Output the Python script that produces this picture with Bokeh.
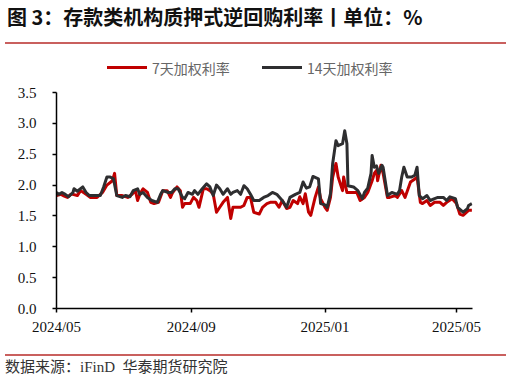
import pandas as pd
from bokeh.plotting import figure
from bokeh.layouts import column
from bokeh.models import (Range1d, FixedTicker, DatetimeTickFormatter, PrintfTickFormatter, Div)
from bokeh.embed import file_html
from bokeh.resources import INLINE

# ---- data ----
d7_dates = ["2024-05-01","2024-05-05","2024-05-07","2024-05-11","2024-05-14","2024-05-16","2024-05-20","2024-05-23",
            "2024-05-28","2024-06-01","2024-06-07","2024-06-12","2024-06-16","2024-06-21","2024-06-23","2024-06-25",
            "2024-06-30","2024-07-05","2024-07-09","2024-07-12","2024-07-14","2024-07-16","2024-07-19","2024-07-23",
            "2024-07-26","2024-07-29","2024-08-02","2024-08-06","2024-08-10","2024-08-13","2024-08-15","2024-08-19",
            "2024-08-22","2024-08-24","2024-08-26","2024-08-31","2024-09-03","2024-09-06","2024-09-08","2024-09-12",
            "2024-09-15","2024-09-18","2024-09-21","2024-09-24","2024-09-27","2024-09-30","2024-10-04","2024-10-07",
            "2024-10-09","2024-10-13","2024-10-16","2024-10-19","2024-10-22","2024-10-25","2024-10-28","2024-11-02",
            "2024-11-05","2024-11-09","2024-11-12","2024-11-17","2024-11-20","2024-11-23","2024-11-27","2024-11-30",
            "2024-12-03","2024-12-07","2024-12-09","2024-12-12","2024-12-14","2024-12-17","2024-12-19","2024-12-23",
            "2024-12-26","2024-12-28","2025-01-01","2025-01-03","2025-01-06","2025-01-08","2025-01-11","2025-01-13",
            "2025-01-17","2025-01-18","2025-01-21","2025-01-24","2025-01-30","2025-02-02","2025-02-06","2025-02-09",
            "2025-02-13","2025-02-15","2025-02-17","2025-02-18","2025-02-21","2025-02-23","2025-02-27","2025-03-01",
            "2025-03-06","2025-03-08","2025-03-12","2025-03-15","2025-03-20","2025-03-24","2025-03-26","2025-03-29",
            "2025-03-31","2025-04-04","2025-04-07","2025-04-11","2025-04-16","2025-04-19","2025-04-22","2025-04-27",
            "2025-05-01","2025-05-04","2025-05-07","2025-05-12","2025-05-15"]
d7_vals = [1.83,1.85,1.83,1.80,1.85,1.85,1.83,1.91,
           1.85,1.80,1.80,1.88,2.00,2.07,2.19,1.83,
           1.83,1.80,1.85,1.91,1.75,1.85,1.94,1.88,
           1.72,1.70,1.72,1.91,1.91,1.80,1.88,1.97,
           1.91,1.64,1.70,1.70,1.80,1.75,1.64,1.94,
           1.94,1.91,1.85,1.56,1.64,1.72,1.80,1.46,
           1.64,1.64,1.64,1.67,1.80,1.80,1.56,1.53,
           1.64,1.70,1.72,1.72,1.64,1.75,1.62,1.64,
           1.75,1.70,1.81,1.70,1.86,1.56,1.51,1.80,
           1.97,1.78,1.64,1.59,1.80,2.13,2.35,2.13,
           1.91,2.13,1.88,1.88,1.88,1.75,1.80,1.88,
           2.07,2.19,2.24,2.07,2.32,2.19,1.80,1.80,
           1.83,1.80,1.91,1.80,2.05,2.10,2.13,1.72,
           1.70,1.75,1.67,1.72,1.72,1.67,1.72,1.78,
           1.70,1.53,1.51,1.59,1.59]

d14_dates = ["2024-05-01","2024-05-03","2024-05-06","2024-05-09","2024-05-12","2024-05-16","2024-05-17","2024-05-20",
             "2024-05-25","2024-05-28","2024-05-31","2024-06-05","2024-06-10","2024-06-13","2024-06-16","2024-06-19",
             "2024-06-22","2024-06-25","2024-06-30","2024-07-03","2024-07-07","2024-07-10","2024-07-14","2024-07-16",
             "2024-07-19","2024-07-23","2024-07-27","2024-08-01","2024-08-04","2024-08-06","2024-08-11","2024-08-14",
             "2024-08-17","2024-08-20","2024-08-24","2024-08-26","2024-08-29","2024-09-02","2024-09-04","2024-09-07",
             "2024-09-11","2024-09-15","2024-09-18","2024-09-21","2024-09-24","2024-09-27","2024-09-30","2024-10-04",
             "2024-10-07","2024-10-09","2024-10-13","2024-10-16","2024-10-19","2024-10-22","2024-10-25","2024-10-28",
             "2024-11-02","2024-11-06","2024-11-10","2024-11-14","2024-11-18","2024-11-23","2024-11-27","2024-11-30",
             "2024-12-05","2024-12-09","2024-12-12","2024-12-15","2024-12-18","2024-12-21","2024-12-26","2024-12-28",
             "2025-01-01","2025-01-03","2025-01-06","2025-01-08","2025-01-11","2025-01-13","2025-01-17","2025-01-19",
             "2025-01-21","2025-01-22","2025-01-27","2025-01-31","2025-02-04","2025-02-06","2025-02-09","2025-02-12",
             "2025-02-13","2025-02-15","2025-02-17","2025-02-19","2025-02-22","2025-02-23","2025-02-27","2025-03-03",
             "2025-03-08","2025-03-10","2025-03-12","2025-03-14","2025-03-17","2025-03-21","2025-03-24","2025-03-26",
             "2025-03-28","2025-03-31","2025-04-04","2025-04-07","2025-04-11","2025-04-14","2025-04-19","2025-04-22",
             "2025-04-25","2025-04-30","2025-05-02","2025-05-07","2025-05-11","2025-05-12","2025-05-15"]
d14_vals = [1.88,1.85,1.88,1.85,1.81,1.88,1.94,1.90,
            1.97,1.88,1.83,1.83,1.83,1.97,2.13,2.13,
            2.10,1.83,1.80,1.83,1.81,1.91,1.94,1.85,
            1.88,1.80,1.75,1.72,1.85,1.91,1.88,1.88,
            1.94,1.94,1.80,1.78,1.88,1.85,1.91,1.85,
            1.94,2.02,1.97,1.83,2.00,1.94,1.85,1.94,
            1.85,1.88,1.91,1.85,1.99,1.94,1.85,1.75,
            1.75,1.80,1.83,1.88,1.85,1.75,1.64,1.80,
            1.85,1.88,2.05,1.95,1.97,2.14,2.10,1.70,
            1.68,1.64,1.86,2.35,2.72,2.64,2.67,2.88,
            2.67,1.99,1.97,1.91,1.78,1.88,1.95,2.19,
            2.48,2.29,2.31,2.19,2.32,2.29,1.83,1.88,
            1.85,1.91,2.13,2.29,2.13,2.13,2.16,2.29,
            1.83,1.78,1.83,1.75,1.78,1.80,1.80,1.75,
            1.81,1.78,1.64,1.56,1.62,1.67,1.70]

series_names = ["7天加权利率", "14天加权利率"]
x_tick_dates = ["2024-05-01", "2024-09-01", "2025-01-01", "2025-05-01"]
y_ticks = [0.0, 0.5, 1.0, 1.5, 2.0, 2.5, 3.0, 3.5]
title_text = "图 3：存款类机构质押式逆回购利率丨单位：%"
source_text = "数据来源：iFinD&nbsp;&nbsp;华泰期货研究院"

RED = "#C00000"
DARK = "#2E2E30"
RULE = "#C9605E"
COLORS = [RED, DARK]

x7 = pd.to_datetime(d7_dates)
x14 = pd.to_datetime(d14_dates)
x_start = pd.Timestamp("2024-05-01")
x_end = pd.Timestamp("2025-05-15 14:00")

W = 510
TITLE_H, FIG_H, FOOT_H = 80, 273, 25
FL, FR, FT, FB = 56, W - 472, 12, 45

# legend entries (HTML), positioned in the header strip
leg_x = [107, 262]
leg_html = ""
for name, col, lx in zip(series_names, COLORS, leg_x):
    leg_html += ('<div style="position:absolute;left:%dpx;top:66px;width:40px;height:3px;background:%s;"></div>'
                 '<div style="position:absolute;left:%dpx;top:58px;font-family:\'Noto Sans CJK SC\';'
                 'font-size:14px;line-height:20px;color:#666666;white-space:nowrap;">%s</div>') % (lx, col, lx + 45, name)

title_div = Div(width=W, height=TITLE_H, margin=0, text=(
    '<div style="position:relative;width:%dpx;height:%dpx;">'
    '<div style="position:absolute;left:7px;top:5px;font-family:\'Noto Sans CJK SC\';'
    'font-weight:bold;font-size:20px;line-height:24px;color:#111111;white-space:nowrap;">%s</div>'
    '<div style="position:absolute;left:5px;top:42px;width:501px;height:2px;background:%s;"></div>'
    '%s</div>') % (W, TITLE_H, title_text, RULE, leg_html))

foot_div = Div(width=W, height=FOOT_H, margin=0, text=(
    '<div style="position:relative;width:%dpx;height:%dpx;">'
    '<div style="position:absolute;left:5px;top:1px;width:501px;height:2px;background:%s;"></div>'
    '<div style="position:absolute;left:5px;top:5px;font-family:\'Liberation Serif\',\'Noto Sans CJK SC\';'
    'font-size:15px;line-height:18px;color:#333333;white-space:nowrap;">%s</div>'
    '</div>') % (W, FOOT_H, RULE, source_text))

p = figure(width=W, height=FIG_H, x_axis_type="datetime", output_backend="svg",
           toolbar_location=None, tools="", margin=0,
           x_range=Range1d(x_start, x_end), y_range=Range1d(0, 3.5),
           min_border_left=FL, min_border_right=FR, min_border_top=FT, min_border_bottom=FB)
p.outline_line_color = None
p.xgrid.visible = False
p.ygrid.visible = False
p.background_fill_color = "white"
p.border_fill_color = "white"

r7 = p.line(x7, d7_vals, line_color=RED, line_width=3, line_join="round")
r14 = p.line(x14, d14_vals, line_color=DARK, line_width=3, line_join="round")

tick_ms = [pd.Timestamp(d).value // 10**6 for d in x_tick_dates]
for ax in (p.xaxis[0], p.yaxis[0]):
    ax.axis_line_color = "black"
    ax.axis_line_width = 1.5
    ax.major_tick_line_color = "black"
    ax.major_tick_line_width = 1.5
    ax.major_tick_out = 4
    ax.major_tick_in = 0
    ax.minor_tick_line_color = None
    ax.major_label_text_font = "Liberation Serif"
    ax.major_label_text_font_size = "15px"
    ax.major_label_text_color = "#111111"

p.xaxis[0].ticker = FixedTicker(ticks=tick_ms)
fmt = "%Y/%m"
p.xaxis[0].formatter = DatetimeTickFormatter(days=fmt, months=fmt, years=fmt, hours=fmt,
                                             context=None)
p.xaxis[0].major_label_standoff = 6
p.yaxis[0].ticker = FixedTicker(ticks=y_ticks)
p.yaxis[0].formatter = PrintfTickFormatter(format="%.1f")
p.yaxis[0].major_label_standoff = 16

layout = column(title_div, p, foot_div, margin=0, spacing=0)
open("out.html", "w").write(file_html(layout, INLINE))
